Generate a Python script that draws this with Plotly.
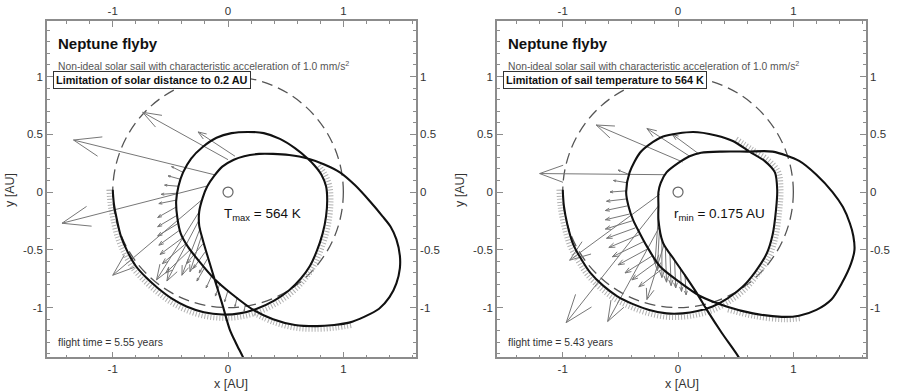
import math
import plotly.graph_objects as go

W, H = 898, 392
FONT = "Liberation Sans, Arial, Helvetica, sans-serif"

# ---------------- trajectories (AU), in flight order ----------------
LEFT_PATH = [
    (-1.00, 0.02), (-0.99, -0.10), (-0.97, -0.21), (-0.93, -0.38), (-0.87, -0.52),
    (-0.80, -0.64), (-0.71, -0.74), (-0.61, -0.83), (-0.49, -0.92), (-0.36, -0.99),
    (-0.21, -1.04), (-0.05, -1.06), (0.10, -1.05), (0.25, -1.01), (0.40, -0.94),
    (0.53, -0.85), (0.63, -0.75), (0.71, -0.64), (0.77, -0.51), (0.82, -0.36),
    (0.85, -0.21), (0.86, -0.07), (0.85, 0.05), (0.81, 0.15), (0.75, 0.23),
    (0.69, 0.29), (0.58, 0.38), (0.45, 0.46), (0.31, 0.51), (0.17, 0.52),
    (0.03, 0.51), (-0.10, 0.47), (-0.22, 0.39), (-0.32, 0.29), (-0.39, 0.17),
    (-0.43, 0.05), (-0.45, -0.08), (-0.44, -0.22), (-0.41, -0.36), (-0.35, -0.47),
    (-0.25, -0.60), (-0.12, -0.75), (0.03, -0.88), (0.22, -1.02), (0.39, -1.10),
    (0.58, -1.15), (0.77, -1.16), (0.92, -1.15), (1.05, -1.13), (1.18, -1.08),
    (1.31, -1.01), (1.40, -0.91), (1.46, -0.79), (1.49, -0.66), (1.49, -0.55),
    (1.46, -0.41), (1.41, -0.30), (1.34, -0.21), (1.23, -0.08), (1.10, 0.06),
    (0.97, 0.17), (0.83, 0.24), (0.69, 0.29), (0.53, 0.32), (0.39, 0.33),
    (0.27, 0.33), (0.14, 0.31), (0.05, 0.28), (-0.05, 0.22), (-0.12, 0.14),
    (-0.18, 0.05), (-0.22, -0.05), (-0.25, -0.17), (-0.25, -0.29), (-0.22, -0.41),
    (-0.17, -0.58), (-0.115, -0.76), (-0.05, -0.97), (0.015, -1.19), (0.07, -1.31),
    (0.13, -1.43), (0.16, -1.50),
]

RIGHT_PATH = [
    (-1.00, 0.02), (-0.99, -0.12), (-0.96, -0.28), (-0.91, -0.45), (-0.84, -0.58),
    (-0.76, -0.70), (-0.65, -0.81), (-0.53, -0.90), (-0.39, -0.97), (-0.25, -1.02),
    (-0.10, -1.05), (0.04, -1.05), (0.17, -1.03), (0.30, -0.99), (0.43, -0.92),
    (0.56, -0.82), (0.67, -0.69), (0.77, -0.53), (0.82, -0.37), (0.85, -0.15),
    (0.86, 0.02), (0.84, 0.17), (0.75, 0.27), (0.62, 0.35), (0.48, 0.44),
    (0.33, 0.49), (0.13, 0.52), (-0.13, 0.48), (-0.25, 0.41), (-0.33, 0.34),
    (-0.42, 0.17), (-0.45, 0.00), (-0.43, -0.12), (-0.39, -0.24), (-0.33, -0.36),
    (-0.27, -0.47), (-0.16, -0.64), (0.00, -0.77), (0.19, -0.90), (0.42, -0.99),
    (0.65, -1.05), (0.90, -1.08), (1.05, -1.07), (1.20, -1.02), (1.33, -0.93),
    (1.42, -0.79), (1.50, -0.62), (1.53, -0.50), (1.52, -0.38), (1.49, -0.27),
    (1.43, -0.13), (1.34, 0.00), (1.20, 0.15), (1.05, 0.27), (0.82, 0.35),
    (0.60, 0.35), (0.38, 0.35), (0.20, 0.34), (0.10, 0.31), (0.00, 0.25),
    (-0.10, 0.17), (-0.15, 0.08), (-0.17, 0.00), (-0.17, -0.12), (-0.17, -0.24),
    (-0.13, -0.44), (-0.03, -0.59), (0.06, -0.72), (0.16, -0.87), (0.25, -1.02),
    (0.38, -1.22), (0.52, -1.42), (0.56, -1.50),
]

# stretches of the path (index ranges) carrying the dense small thrust ticks
LEFT_TICK_RANGES = [(0, 25), (43, 49)]
RIGHT_TICK_RANGES = [(0, 25), (39, 43)]

# thrust vectors: (tail x, tail y, head x, head y) in AU
LEFT_ARROWS = [
    (0.06, 0.31, -0.26, 0.52), (0.00, 0.28, -0.74, 0.69), (-0.12, 0.15, -1.34, 0.45),
    (-0.19, 0.05, -1.44, -0.27), (-0.23, -0.07, -1.00, -0.72),
    (-0.25, -0.17, -0.62, -0.76), (-0.25, -0.24, -0.53, -0.77), (-0.24, -0.31, -0.40, -0.72),
    (-0.23, -0.38, -0.33, -0.69),
    (-0.39, 0.17, -0.49, 0.22), (-0.41, 0.11, -0.52, 0.14), (-0.43, 0.05, -0.55, 0.06),
    (-0.44, -0.01, -0.58, -0.02), (-0.45, -0.07, -0.60, -0.10),
    (-0.45, -0.13, -0.61, -0.22), (-0.44, -0.20, -0.61, -0.30), (-0.43, -0.27, -0.61, -0.38),
    (-0.42, -0.33, -0.60, -0.46), (-0.40, -0.40, -0.59, -0.54), (-0.37, -0.45, -0.57, -0.62),
    (-0.33, -0.50, -0.54, -0.70),
    (-0.22, -0.45, -0.36, -0.62), (-0.20, -0.52, -0.30, -0.66), (-0.18, -0.58, -0.25, -0.70),
    (-0.20, -0.65, -0.27, -0.77), (-0.14, -0.72, -0.19, -0.83), (-0.07, -0.79, -0.11, -0.90),
    (0.00, -0.85, -0.03, -0.95), (0.08, -0.91, 0.06, -0.99), (0.15, -0.97, 0.14, -1.03),
]

RIGHT_ARROWS = [
    (0.04, 0.26, -0.71, 0.58), (0.10, 0.31, -0.27, 0.55), (0.18, 0.33, -0.05, 0.50),
    (-0.12, 0.15, -1.20, 0.16), (-0.16, -0.02, -0.94, -0.59), (-0.17, -0.12, -0.97, -1.13),
    (-0.16, -0.30, -0.61, -1.12), (-0.12, -0.45, -0.27, -0.93),
    (-0.42, 0.15, -0.52, 0.19), (-0.44, 0.08, -0.56, 0.10), (-0.45, 0.01, -0.59, 0.00),
    (-0.45, -0.06, -0.62, -0.08), (-0.44, -0.12, -0.63, -0.16), (-0.42, -0.19, -0.63, -0.24),
    (-0.40, -0.25, -0.63, -0.32), (-0.37, -0.31, -0.62, -0.40), (-0.34, -0.37, -0.60, -0.48),
    (-0.30, -0.43, -0.57, -0.56), (-0.26, -0.49, -0.52, -0.63), (-0.22, -0.55, -0.46, -0.70),
    (-0.18, -0.60, -0.40, -0.76), (-0.13, -0.66, -0.34, -0.82),
    (-0.17, -0.20, -0.20, -0.62), (-0.16, -0.30, -0.18, -0.68), (-0.14, -0.40, -0.14, -0.74),
    (-0.11, -0.48, -0.10, -0.78), (-0.07, -0.54, -0.06, -0.81), (-0.03, -0.59, -0.02, -0.83),
    (0.02, -0.65, 0.03, -0.86), (0.06, -0.71, 0.07, -0.89),
]

TITLE = "Neptune flyby"
SUBTITLE = "Non-ideal solar sail with characteristic acceleration of 1.0 mm/s<sup>2</sup>"
LEFT_BOX = "Limitation of solar distance to 0.2 AU"
RIGHT_BOX = "Limitation of sail temperature to 564 K"
LEFT_RESULT = "T<sub>max</sub> = 564 K"
RIGHT_RESULT = "r<sub>min</sub> = 0.175 AU"
LEFT_TIME = "flight time = 5.55 years"
RIGHT_TIME = "flight time = 5.43 years"

X_RANGE = [-1.57, 1.63]
Y_RANGE = [-1.43, 1.48]
X_TICKS = [-1, 0, 1]
Y_TICKS = [-1, -0.5, 0, 0.5, 1]
Y_TICK_TEXT = ["-1", "-0.5", "0", "0.5", "1"]

# panel frames in pixels (left, right); shared top / bottom
PANELS_PX = [(47, 416), (497, 866)]
TOP_PX, BOTTOM_PX = 21, 357.3


def px(x):
    return x / W


def py(y):
    return 1 - y / H


def arrow_lines(arrows):
    sx, sy, hx, hy = [], [], [], []
    spread = math.radians(20)
    for x0, y0, x1, y1 in arrows:
        sx += [x0, x1, None]
        sy += [y0, y1, None]
        dx, dy = x1 - x0, y1 - y0
        length = math.hypot(dx, dy)
        h = min(0.2 * length, 0.26)
        back = math.atan2(-dy, -dx)
        hx += [x1 + h * math.cos(back + spread), x1, x1 + h * math.cos(back - spread), None]
        hy += [y1 + h * math.sin(back + spread), y1, y1 + h * math.sin(back - spread), None]
    return sx, sy, hx, hy


def tick_fringe(path, ranges, gap=0.033):
    fx, fy = [], []
    for i0, i1 in ranges:
        for x, y in path[i0:i1]:
            r = math.hypot(x, y)
            fx.append(x * (r + gap) / r)
            fy.append(y * (r + gap) / r)
        fx.append(None)
        fy.append(None)
    return fx, fy


fig = go.Figure()
panels = [
    (LEFT_PATH, LEFT_TICK_RANGES, LEFT_ARROWS, LEFT_BOX, LEFT_RESULT, LEFT_TIME),
    (RIGHT_PATH, RIGHT_TICK_RANGES, RIGHT_ARROWS, RIGHT_BOX, RIGHT_RESULT, RIGHT_TIME),
]

annotations = []
shapes = []
for k, (path, ranges, arrows, box, result, ftime) in enumerate(panels):
    xa = "x" if k == 0 else "x2"
    ya = "y" if k == 0 else "y2"
    xt = "x3" if k == 0 else "x4"
    yr = "y3" if k == 0 else "y4"

    # small dense thrust ticks along the outer arcs
    fx, fy = tick_fringe(path, ranges)
    fig.add_trace(go.Scatter(x=fx, y=fy, xaxis=xa, yaxis=ya, mode="lines",
                             line=dict(color="#b0b0b0", width=5, dash="1px,2px", shape="spline"),
                             hoverinfo="skip", showlegend=False))

    sx, sy, hx, hy = arrow_lines(arrows)
    fig.add_trace(go.Scatter(x=sx, y=sy, xaxis=xa, yaxis=ya, mode="lines",
                             line=dict(color="#777777", width=1),
                             hoverinfo="skip", showlegend=False))
    fig.add_trace(go.Scatter(x=hx, y=hy, xaxis=xa, yaxis=ya, mode="lines",
                             line=dict(color="#777777", width=1),
                             hoverinfo="skip", showlegend=False))

    fig.add_trace(go.Scatter(x=[p[0] for p in path], y=[p[1] for p in path],
                             xaxis=xa, yaxis=ya, mode="lines",
                             line=dict(color="#111111", width=2.1, shape="spline", smoothing=0.8),
                             hoverinfo="skip", showlegend=False))

    # the Sun
    fig.add_trace(go.Scatter(x=[0], y=[0], xaxis=xa, yaxis=ya, mode="markers",
                             marker=dict(symbol="circle-open", size=10, color="#666666",
                                         line=dict(color="#666666", width=1.2)),
                             hoverinfo="skip", showlegend=False))

    # carrier for the top / right label axes
    fig.add_trace(go.Scatter(x=[0], y=[0], xaxis=xt, yaxis=yr, mode="markers",
                             marker=dict(opacity=0), hoverinfo="skip", showlegend=False))

    # Earth orbit
    shapes.append(dict(type="circle", xref=xa, yref=ya, x0=-1, y0=-1, x1=1, y1=1,
                       line=dict(color="#555555", width=1.3, dash="11px,6px"), layer="below"))

    left, right = PANELS_PX[k]
    off = left - 47
    annotations += [
        dict(x=px(56 + off), y=py(43), xref="paper", yref="paper", xanchor="left",
             yanchor="middle", showarrow=False, text="<b>%s</b>" % TITLE,
             font=dict(family=FONT, size=15, color="#111111")),
        dict(x=px(56 + off), y=py(65), xref="paper", yref="paper", xanchor="left",
             yanchor="middle", showarrow=False, text=SUBTITLE,
             font=dict(family=FONT, size=10.3, color="#555555")),
        dict(x=px(53 + off), y=py(80), xref="paper", yref="paper", xanchor="left",
             yanchor="middle", showarrow=False, text="<b>%s</b>" % box,
             font=dict(family=FONT, size=10.9, color="#111111"),
             bgcolor="white", bordercolor="#333333", borderwidth=1, borderpad=2),
        dict(x=px(222 + off), y=py(214), xref="paper", yref="paper", xanchor="left",
             yanchor="middle", showarrow=False, text=result,
             font=dict(family=FONT, size=13.5, color="#111111")),
        dict(x=px(56 + off), y=py(342), xref="paper", yref="paper", xanchor="left",
             yanchor="middle", showarrow=False, text=ftime,
             font=dict(family=FONT, size=10.4, color="#333333")),
        dict(x=px((left + right) / 2), y=py(384), xref="paper", yref="paper",
             xanchor="center", yanchor="middle", showarrow=False, text="x [AU]",
             font=dict(family=FONT, size=12.5, color="#333333")),
        dict(x=px(10 + off), y=py(190), xref="paper", yref="paper", xanchor="center",
             yanchor="middle", showarrow=False, text="y [AU]", textangle=-90,
             font=dict(family=FONT, size=12.5, color="#333333")),
    ]

tick_font = dict(family=FONT, size=11.5, color="#333333")
frame = dict(showline=True, linecolor="#8c8c8c", linewidth=1.5, showgrid=False,
             zeroline=False, ticks="inside", ticklen=6, tickwidth=1, tickcolor="#8c8c8c",
             tickfont=tick_font, fixedrange=True)
x_common = dict(frame, range=X_RANGE, tickvals=X_TICKS, ticktext=[str(v) for v in X_TICKS],
                minor=dict(dtick=0.2, tick0=0, ticks="inside", ticklen=3, tickcolor="#8c8c8c"))
y_common = dict(frame, range=Y_RANGE, tickvals=Y_TICKS, ticktext=Y_TICK_TEXT,
                minor=dict(dtick=0.1, tick0=0, ticks="inside", ticklen=3, tickcolor="#8c8c8c"))

y_dom = [py(BOTTOM_PX), py(TOP_PX)]
layout = dict(
    width=W, height=H, margin=dict(l=0, r=0, t=0, b=0),
    paper_bgcolor="white", plot_bgcolor="white", showlegend=False,
    annotations=annotations, shapes=shapes,
)
for k, (left, right) in enumerate(PANELS_PX):
    dom = [px(left), px(right)]
    xb, yl = ("xaxis", "yaxis") if k == 0 else ("xaxis2", "yaxis2")
    xt, yr = ("xaxis3", "yaxis3") if k == 0 else ("xaxis4", "yaxis4")
    xn = "x" if k == 0 else "x2"
    yn = "y" if k == 0 else "y2"
    layout[xb] = dict(x_common, domain=dom, anchor=yn, side="bottom", mirror=True)
    layout[yl] = dict(y_common, domain=y_dom, anchor=xn, side="left", mirror=True)
    layout[xt] = dict(x_common, overlaying=xn, anchor=yn, side="top")
    layout[yr] = dict(y_common, overlaying=yn, anchor=xn, side="right")

fig.update_layout(**layout)
fig.write_html("out.html")
